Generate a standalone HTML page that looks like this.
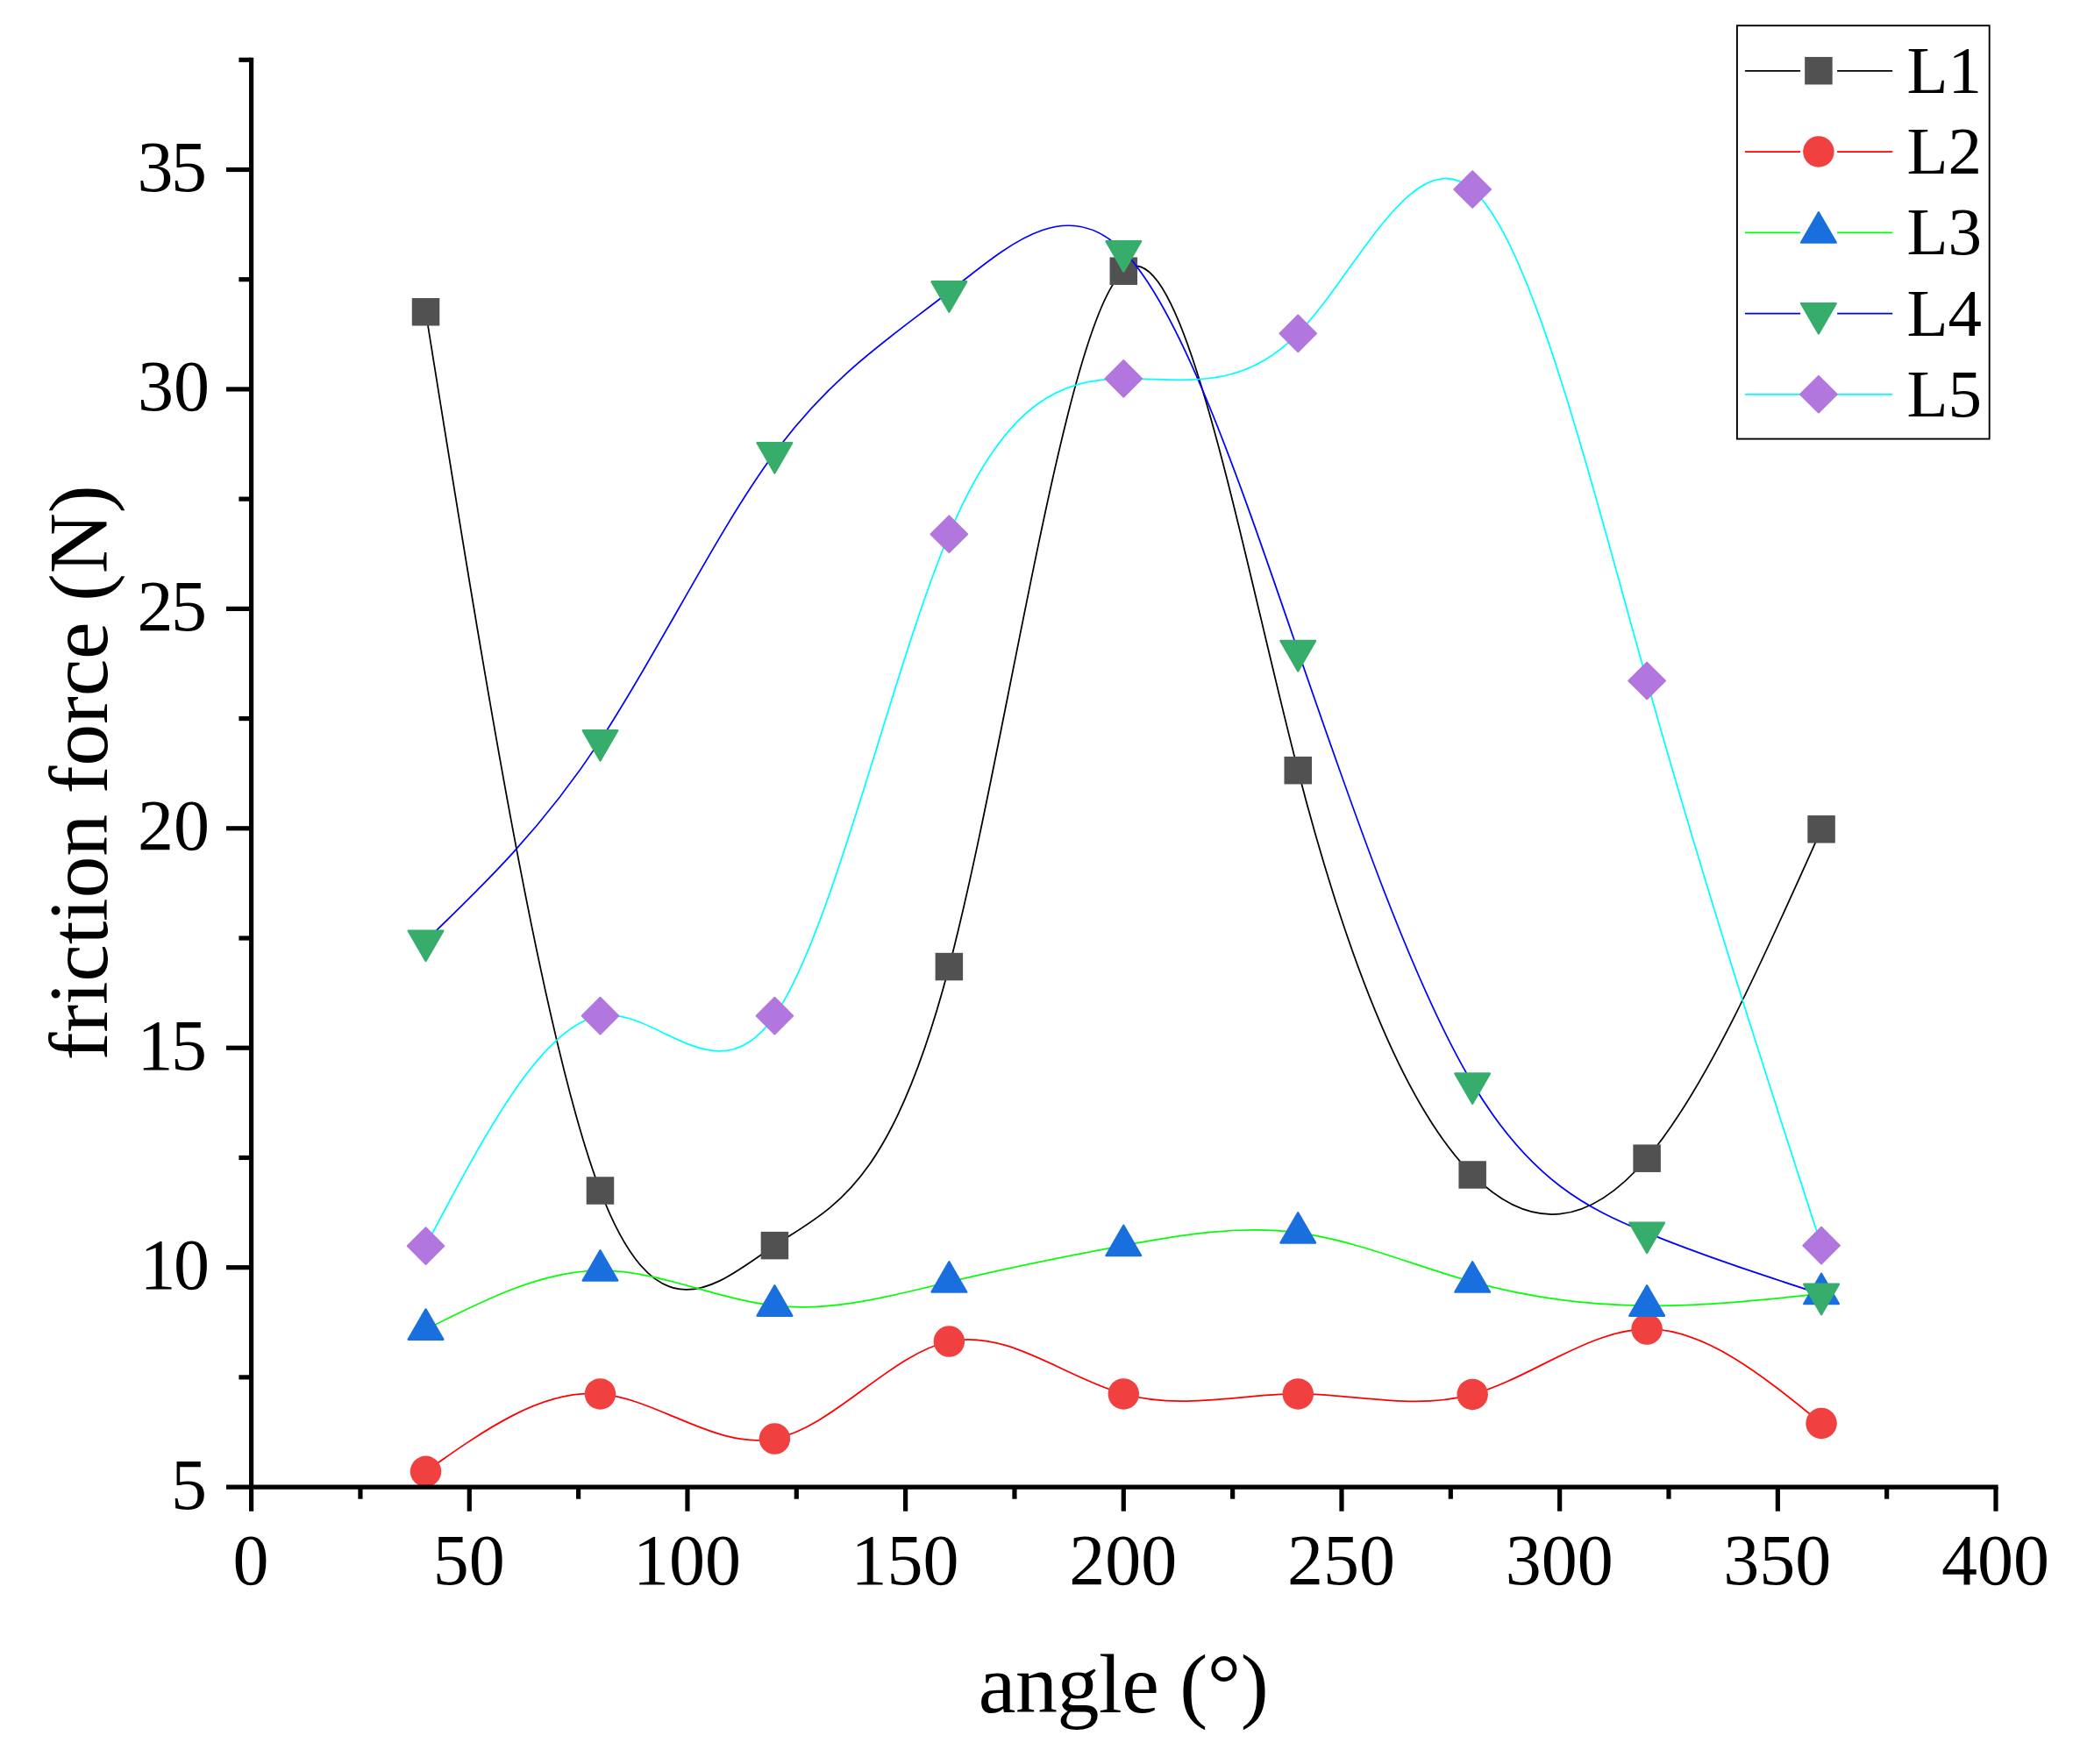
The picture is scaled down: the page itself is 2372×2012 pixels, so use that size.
<!DOCTYPE html>
<html lang="en"><head><meta charset="utf-8"><title>friction force vs angle</title>
<style>html,body{margin:0;padding:0;background:#fff}body{width:2372px;height:2012px;overflow:hidden}svg{display:block}</style></head>
<body>
<svg width="2372" height="2012" viewBox="0 0 2372 2012" style="display:block">
<rect width="2372" height="2012" fill="#ffffff"/>
<path d="M485.54 355.78C551.85 770.06 618.17 1184.35 684.48 1358.01C750.79 1531.68 817.11 1464.73 883.42 1420.62C949.73 1376.51 1016.05 1355.25 1082.36 1102.57C1148.67 849.90 1214.99 365.82 1281.30 309.20C1347.61 252.58 1413.93 623.41 1480.24 878.69C1546.55 1133.96 1612.87 1273.69 1679.18 1339.98C1745.49 1406.28 1811.81 1399.14 1878.12 1321.20C1944.43 1243.27 2010.75 1094.53 2077.06 945.80" fill="none" stroke="#000000" stroke-width="1.75" stroke-linecap="round"/>
<rect x="469.79" y="340.03" width="31.5" height="31.5" fill="#515151"/>
<rect x="668.73" y="1342.26" width="31.5" height="31.5" fill="#515151"/>
<rect x="867.67" y="1404.87" width="31.5" height="31.5" fill="#515151"/>
<rect x="1066.61" y="1086.82" width="31.5" height="31.5" fill="#515151"/>
<rect x="1265.55" y="293.45" width="31.5" height="31.5" fill="#515151"/>
<rect x="1464.49" y="862.94" width="31.5" height="31.5" fill="#515151"/>
<rect x="1663.43" y="1324.23" width="31.5" height="31.5" fill="#515151"/>
<rect x="1862.37" y="1305.45" width="31.5" height="31.5" fill="#515151"/>
<rect x="2061.31" y="930.05" width="31.5" height="31.5" fill="#515151"/>
<path d="M485.54 1678.32C551.85 1631.30 618.17 1584.28 684.48 1589.92C750.79 1595.55 817.11 1653.84 883.42 1641.00C949.73 1628.17 1016.05 1544.20 1082.36 1530.01C1148.67 1515.82 1214.99 1571.41 1281.30 1589.92C1347.61 1608.42 1413.93 1589.83 1480.24 1589.92C1546.55 1590.00 1612.87 1608.75 1679.18 1590.42C1745.49 1572.08 1811.81 1516.66 1878.12 1515.99C1944.43 1515.32 2010.75 1569.40 2077.06 1623.47" fill="none" stroke="#ff0000" stroke-width="1.75" stroke-linecap="round"/>
<circle cx="485.54" cy="1678.32" r="17.75" fill="#f14040"/>
<circle cx="684.48" cy="1589.92" r="17.75" fill="#f14040"/>
<circle cx="883.42" cy="1641.00" r="17.75" fill="#f14040"/>
<circle cx="1082.36" cy="1530.01" r="17.75" fill="#f14040"/>
<circle cx="1281.30" cy="1589.92" r="17.75" fill="#f14040"/>
<circle cx="1480.24" cy="1589.92" r="17.75" fill="#f14040"/>
<circle cx="1679.18" cy="1590.42" r="17.75" fill="#f14040"/>
<circle cx="1878.12" cy="1515.99" r="17.75" fill="#f14040"/>
<circle cx="2077.06" cy="1623.47" r="17.75" fill="#f14040"/>
<path d="M485.54 1516.29C551.85 1482.84 618.17 1449.40 684.48 1449.17C750.79 1448.95 817.11 1481.95 883.42 1489.24C949.73 1496.53 1016.05 1478.11 1082.36 1462.20C1148.67 1446.28 1214.99 1432.88 1281.30 1420.62C1347.61 1408.37 1413.93 1397.25 1480.24 1406.10C1546.55 1414.94 1612.87 1443.75 1679.18 1462.20C1745.49 1480.64 1811.81 1488.72 1878.12 1489.24C1944.43 1489.77 2010.75 1482.74 2077.06 1475.72" fill="none" stroke="#00ff00" stroke-width="1.75" stroke-linecap="round"/>
<path d="M465.74 1527.72L505.34 1527.72L485.54 1493.42Z" fill="#1a6fdf" stroke="#1a6fdf" stroke-width="2.4" stroke-linejoin="round"/>
<path d="M664.68 1460.61L704.28 1460.61L684.48 1426.31Z" fill="#1a6fdf" stroke="#1a6fdf" stroke-width="2.4" stroke-linejoin="round"/>
<path d="M863.62 1500.68L903.22 1500.68L883.42 1466.38Z" fill="#1a6fdf" stroke="#1a6fdf" stroke-width="2.4" stroke-linejoin="round"/>
<path d="M1062.56 1473.63L1102.16 1473.63L1082.36 1439.33Z" fill="#1a6fdf" stroke="#1a6fdf" stroke-width="2.4" stroke-linejoin="round"/>
<path d="M1261.50 1432.06L1301.10 1432.06L1281.30 1397.76Z" fill="#1a6fdf" stroke="#1a6fdf" stroke-width="2.4" stroke-linejoin="round"/>
<path d="M1460.44 1417.53L1500.04 1417.53L1480.24 1383.23Z" fill="#1a6fdf" stroke="#1a6fdf" stroke-width="2.4" stroke-linejoin="round"/>
<path d="M1659.38 1473.63L1698.98 1473.63L1679.18 1439.33Z" fill="#1a6fdf" stroke="#1a6fdf" stroke-width="2.4" stroke-linejoin="round"/>
<path d="M1858.32 1500.68L1897.92 1500.68L1878.12 1466.38Z" fill="#1a6fdf" stroke="#1a6fdf" stroke-width="2.4" stroke-linejoin="round"/>
<path d="M2057.26 1487.15L2096.86 1487.15L2077.06 1452.85Z" fill="#1a6fdf" stroke="#1a6fdf" stroke-width="2.4" stroke-linejoin="round"/>
<path d="M485.54 1073.02C551.85 1009.17 618.17 945.32 684.48 844.63C750.79 743.94 817.11 606.40 883.42 516.56C949.73 426.71 1016.05 384.55 1082.36 332.74C1148.67 280.93 1214.99 219.47 1281.30 286.66C1347.61 353.86 1413.93 549.71 1480.24 742.45C1546.55 935.19 1612.87 1124.82 1679.18 1235.80C1745.49 1346.79 1811.81 1379.14 1878.12 1406.10C1944.43 1433.06 2010.75 1454.64 2077.06 1476.22" fill="none" stroke="#0000ff" stroke-width="1.75" stroke-linecap="round"/>
<path d="M465.74 1061.59L505.34 1061.59L485.54 1095.89Z" fill="#37ad6b" stroke="#37ad6b" stroke-width="2.4" stroke-linejoin="round"/>
<path d="M664.68 833.19L704.28 833.19L684.48 867.49Z" fill="#37ad6b" stroke="#37ad6b" stroke-width="2.4" stroke-linejoin="round"/>
<path d="M863.62 505.13L903.22 505.13L883.42 539.43Z" fill="#37ad6b" stroke="#37ad6b" stroke-width="2.4" stroke-linejoin="round"/>
<path d="M1062.56 321.31L1102.16 321.31L1082.36 355.61Z" fill="#37ad6b" stroke="#37ad6b" stroke-width="2.4" stroke-linejoin="round"/>
<path d="M1261.50 275.23L1301.10 275.23L1281.30 309.53Z" fill="#37ad6b" stroke="#37ad6b" stroke-width="2.4" stroke-linejoin="round"/>
<path d="M1460.44 731.02L1500.04 731.02L1480.24 765.32Z" fill="#37ad6b" stroke="#37ad6b" stroke-width="2.4" stroke-linejoin="round"/>
<path d="M1659.38 1224.37L1698.98 1224.37L1679.18 1258.67Z" fill="#37ad6b" stroke="#37ad6b" stroke-width="2.4" stroke-linejoin="round"/>
<path d="M1858.32 1394.66L1897.92 1394.66L1878.12 1428.96Z" fill="#37ad6b" stroke="#37ad6b" stroke-width="2.4" stroke-linejoin="round"/>
<path d="M2057.26 1464.79L2096.86 1464.79L2077.06 1499.09Z" fill="#37ad6b" stroke="#37ad6b" stroke-width="2.4" stroke-linejoin="round"/>
<path d="M485.54 1421.12C551.85 1295.02 618.17 1168.91 684.48 1158.67C750.79 1148.43 817.11 1254.06 883.42 1158.67C949.73 1063.28 1016.05 766.86 1082.36 609.22C1148.67 451.58 1214.99 432.72 1281.30 431.91C1347.61 431.11 1413.93 448.37 1480.24 380.32C1546.55 312.28 1612.87 158.94 1679.18 216.04C1745.49 273.14 1811.81 540.67 1878.12 776.51C1944.43 1012.35 2010.75 1216.48 2077.06 1420.62" fill="none" stroke="#00ffff" stroke-width="1.75" stroke-linecap="round"/>
<path d="M464.64 1421.12L485.54 1400.22L506.44 1421.12L485.54 1442.02Z" fill="#b177de" stroke="#b177de" stroke-width="1.9" stroke-linejoin="round"/>
<path d="M663.58 1158.67L684.48 1137.77L705.38 1158.67L684.48 1179.57Z" fill="#b177de" stroke="#b177de" stroke-width="1.9" stroke-linejoin="round"/>
<path d="M862.52 1158.67L883.42 1137.77L904.32 1158.67L883.42 1179.57Z" fill="#b177de" stroke="#b177de" stroke-width="1.9" stroke-linejoin="round"/>
<path d="M1061.46 609.22L1082.36 588.32L1103.26 609.22L1082.36 630.12Z" fill="#b177de" stroke="#b177de" stroke-width="1.9" stroke-linejoin="round"/>
<path d="M1260.40 431.91L1281.30 411.01L1302.20 431.91L1281.30 452.81Z" fill="#b177de" stroke="#b177de" stroke-width="1.9" stroke-linejoin="round"/>
<path d="M1459.34 380.32L1480.24 359.42L1501.14 380.32L1480.24 401.22Z" fill="#b177de" stroke="#b177de" stroke-width="1.9" stroke-linejoin="round"/>
<path d="M1658.28 216.04L1679.18 195.14L1700.08 216.04L1679.18 236.94Z" fill="#b177de" stroke="#b177de" stroke-width="1.9" stroke-linejoin="round"/>
<path d="M1857.22 776.51L1878.12 755.61L1899.02 776.51L1878.12 797.41Z" fill="#b177de" stroke="#b177de" stroke-width="1.9" stroke-linejoin="round"/>
<path d="M2056.16 1420.62L2077.06 1399.72L2097.96 1420.62L2077.06 1441.52Z" fill="#b177de" stroke="#b177de" stroke-width="1.9" stroke-linejoin="round"/>
<g stroke="#000" stroke-width="5.2" fill="none" stroke-linecap="butt">
<line x1="286.6" y1="65.68" x2="286.6" y2="1723.70"/>
<line x1="258.00" y1="1696.1" x2="2278.60" y2="1696.1"/>
<line x1="272.40" y1="1570.88" x2="286.60" y2="1570.88"/>
<line x1="258.00" y1="1445.67" x2="286.60" y2="1445.67"/>
<line x1="272.40" y1="1320.45" x2="286.60" y2="1320.45"/>
<line x1="258.00" y1="1195.23" x2="286.60" y2="1195.23"/>
<line x1="272.40" y1="1070.02" x2="286.60" y2="1070.02"/>
<line x1="258.00" y1="944.80" x2="286.60" y2="944.80"/>
<line x1="272.40" y1="819.58" x2="286.60" y2="819.58"/>
<line x1="258.00" y1="694.37" x2="286.60" y2="694.37"/>
<line x1="272.40" y1="569.15" x2="286.60" y2="569.15"/>
<line x1="258.00" y1="443.93" x2="286.60" y2="443.93"/>
<line x1="272.40" y1="318.72" x2="286.60" y2="318.72"/>
<line x1="258.00" y1="193.50" x2="286.60" y2="193.50"/>
<line x1="272.40" y1="68.28" x2="286.60" y2="68.28"/>
<line x1="410.94" y1="1696.10" x2="410.94" y2="1709.70"/>
<line x1="535.28" y1="1696.10" x2="535.28" y2="1723.70"/>
<line x1="659.61" y1="1696.10" x2="659.61" y2="1709.70"/>
<line x1="783.95" y1="1696.10" x2="783.95" y2="1723.70"/>
<line x1="908.29" y1="1696.10" x2="908.29" y2="1709.70"/>
<line x1="1032.62" y1="1696.10" x2="1032.62" y2="1723.70"/>
<line x1="1156.96" y1="1696.10" x2="1156.96" y2="1709.70"/>
<line x1="1281.30" y1="1696.10" x2="1281.30" y2="1723.70"/>
<line x1="1405.64" y1="1696.10" x2="1405.64" y2="1709.70"/>
<line x1="1529.98" y1="1696.10" x2="1529.98" y2="1723.70"/>
<line x1="1654.31" y1="1696.10" x2="1654.31" y2="1709.70"/>
<line x1="1778.65" y1="1696.10" x2="1778.65" y2="1723.70"/>
<line x1="1902.99" y1="1696.10" x2="1902.99" y2="1709.70"/>
<line x1="2027.33" y1="1696.10" x2="2027.33" y2="1723.70"/>
<line x1="2151.66" y1="1696.10" x2="2151.66" y2="1709.70"/>
<line x1="2276.00" y1="1696.10" x2="2276.00" y2="1723.70"/>
</g>
<g font-family="'Liberation Serif', serif" font-size="82" fill="#000">
<text x="233.4" y="1721.00" text-anchor="end" letter-spacing="-2.5">5</text>
<text x="236.4" y="1469.87" text-anchor="end" letter-spacing="-2.5">10</text>
<text x="233.4" y="1220.13" text-anchor="end" letter-spacing="-2.5">15</text>
<text x="238.9" y="969.00" text-anchor="end" letter-spacing="0">20</text>
<text x="233.4" y="719.27" text-anchor="end" letter-spacing="-2.5">25</text>
<text x="238.9" y="468.13" text-anchor="end" letter-spacing="0">30</text>
<text x="233.4" y="218.40" text-anchor="end" letter-spacing="-2.5">35</text>
<text x="286.10" y="1807.3" text-anchor="middle">0</text>
<text x="534.78" y="1807.3" text-anchor="middle">50</text>
<text x="783.45" y="1807.3" text-anchor="middle">100</text>
<text x="1032.12" y="1807.3" text-anchor="middle">150</text>
<text x="1280.80" y="1807.3" text-anchor="middle">200</text>
<text x="1529.48" y="1807.3" text-anchor="middle">250</text>
<text x="1778.15" y="1807.3" text-anchor="middle">300</text>
<text x="2026.83" y="1807.3" text-anchor="middle">350</text>
<text x="2275.50" y="1807.3" text-anchor="middle">400</text>
</g>
<text x="1281" y="1953" text-anchor="middle" letter-spacing="-0.4" font-family="'Liberation Serif', serif" font-size="96" fill="#000">angle (°)</text>
<text transform="translate(121.6 881.5) rotate(-90)" text-anchor="middle" letter-spacing="-0.28" font-family="'Liberation Serif', serif" font-size="96" fill="#000">friction force (N)</text>
<rect x="1980.9" y="29.2" width="287.8" height="471.4" fill="#fff" stroke="#000" stroke-width="1.9"/>
<path d="M1989.9 80.80H2053.1M2095.1 80.80H2158.2" stroke="#000000" stroke-width="1.75" fill="none"/>
<rect x="2058.15" y="64.95" width="31.5" height="31.5" fill="#515151"/>
<text x="2174.5" y="105.80" font-family="'Liberation Serif', serif" font-size="77" fill="#000">L1</text>
<path d="M1989.9 173.07H2053.1M2095.1 173.07H2158.2" stroke="#ff0000" stroke-width="1.75" fill="none"/>
<circle cx="2073.90" cy="172.97" r="17.75" fill="#f14040"/>
<text x="2174.5" y="198.07" font-family="'Liberation Serif', serif" font-size="77" fill="#000">L2</text>
<path d="M1989.9 265.34H2053.1M2095.1 265.34H2158.2" stroke="#00ff00" stroke-width="1.75" fill="none"/>
<path d="M2054.10 276.67L2093.70 276.67L2073.90 242.37Z" fill="#1a6fdf" stroke="#1a6fdf" stroke-width="2.4" stroke-linejoin="round"/>
<text x="2174.5" y="290.34" font-family="'Liberation Serif', serif" font-size="77" fill="#000">L3</text>
<path d="M1989.9 357.61H2053.1M2095.1 357.61H2158.2" stroke="#0000ff" stroke-width="1.75" fill="none"/>
<path d="M2054.10 346.08L2093.70 346.08L2073.90 380.38Z" fill="#37ad6b" stroke="#37ad6b" stroke-width="2.4" stroke-linejoin="round"/>
<text x="2174.5" y="382.61" font-family="'Liberation Serif', serif" font-size="77" fill="#000">L4</text>
<path d="M1989.9 449.88H2053.1M2095.1 449.88H2158.2" stroke="#00ffff" stroke-width="1.75" fill="none"/>
<path d="M2053.00 449.78L2073.90 428.88L2094.80 449.78L2073.90 470.68Z" fill="#b177de" stroke="#b177de" stroke-width="1.9" stroke-linejoin="round"/>
<text x="2174.5" y="474.88" font-family="'Liberation Serif', serif" font-size="77" fill="#000">L5</text>
</svg>
</body></html>
